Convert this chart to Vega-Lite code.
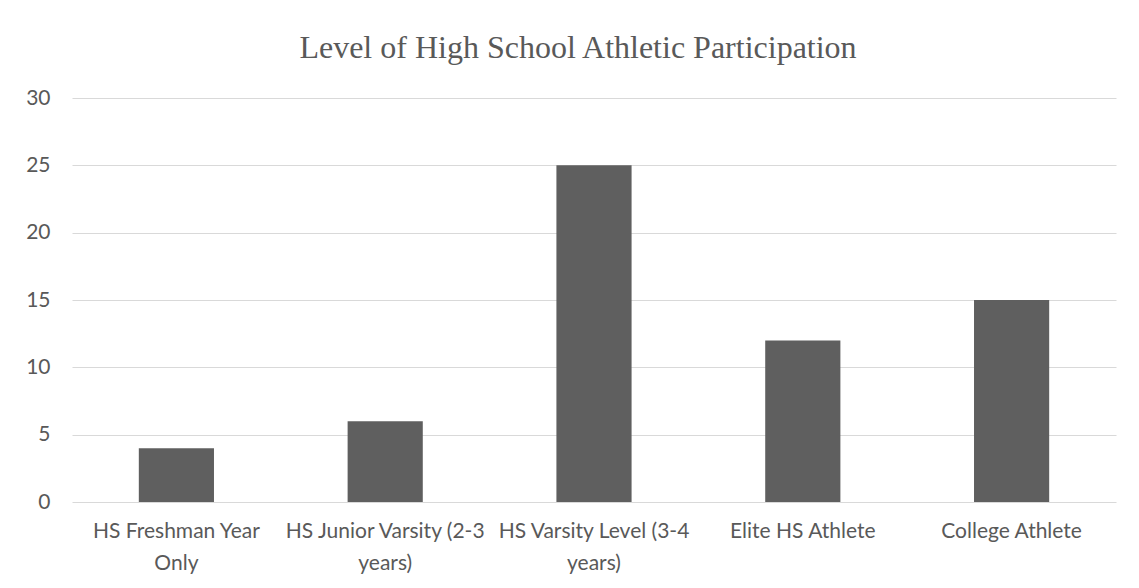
{
  "$schema": "https://vega.github.io/schema/vega-lite/v6.json",
  "width": 1044,
  "height": 404,
  "autosize": {"type": "none"},
  "padding": {"left": 72, "top": 98, "right": 23, "bottom": 86},
  "background": "white",
  "title": {
    "text": "Level of High School Athletic Participation",
    "font": "Liberation Serif",
    "fontSize": 32,
    "fontWeight": "normal",
    "color": "#595959",
    "anchor": "middle",
    "frame": "group",
    "baseline": "alphabetic",
    "offset": -3,
    "dx": -16
  },
  "data": {
    "values": [
      {"level": "HS Freshman Year Only", "count": 4},
      {"level": "HS Junior Varsity (2-3 years)", "count": 6},
      {"level": "HS Varsity Level (3-4 years)", "count": 25},
      {"level": "Elite HS Athlete", "count": 12},
      {"level": "College Athlete", "count": 15}
    ]
  },
  "mark": {"type": "bar", "color": "#5f5f5f"},
  "encoding": {
    "x": {
      "field": "level",
      "type": "nominal",
      "sort": null,
      "scale": {"paddingInner": 0.64, "paddingOuter": 0.32},
      "axis": {
        "title": null,
        "labelAngle": 0,
        "labelLimit": 0,
        "ticks": false,
        "domain": false,
        "labelPadding": 18,
        "labelFont": "Lato",
        "labelFontSize": 21,
        "labelColor": "#595959",
        "labelLineHeight": 32,
        "labelOverlap": false,
        "labelExpr": "datum.value == 'HS Freshman Year Only' ? ['HS Freshman Year', 'Only'] : datum.value == 'HS Junior Varsity (2-3 years)' ? ['HS Junior Varsity (2-3', 'years)'] : datum.value == 'HS Varsity Level (3-4 years)' ? ['HS Varsity Level (3-4', 'years)'] : datum.value"
      }
    },
    "y": {
      "field": "count",
      "type": "quantitative",
      "scale": {"domain": [0, 30]},
      "axis": {
        "title": null,
        "values": [0, 5, 10, 15, 20, 25, 30],
        "ticks": false,
        "domain": false,
        "gridColor": "#d9d9d9",
        "gridWidth": 1,
        "labelPadding": 22,
        "labelFont": "Lato",
        "labelFontSize": 21,
        "labelColor": "#595959"
      }
    }
  },
  "config": {
    "view": {"stroke": null}
  }
}
